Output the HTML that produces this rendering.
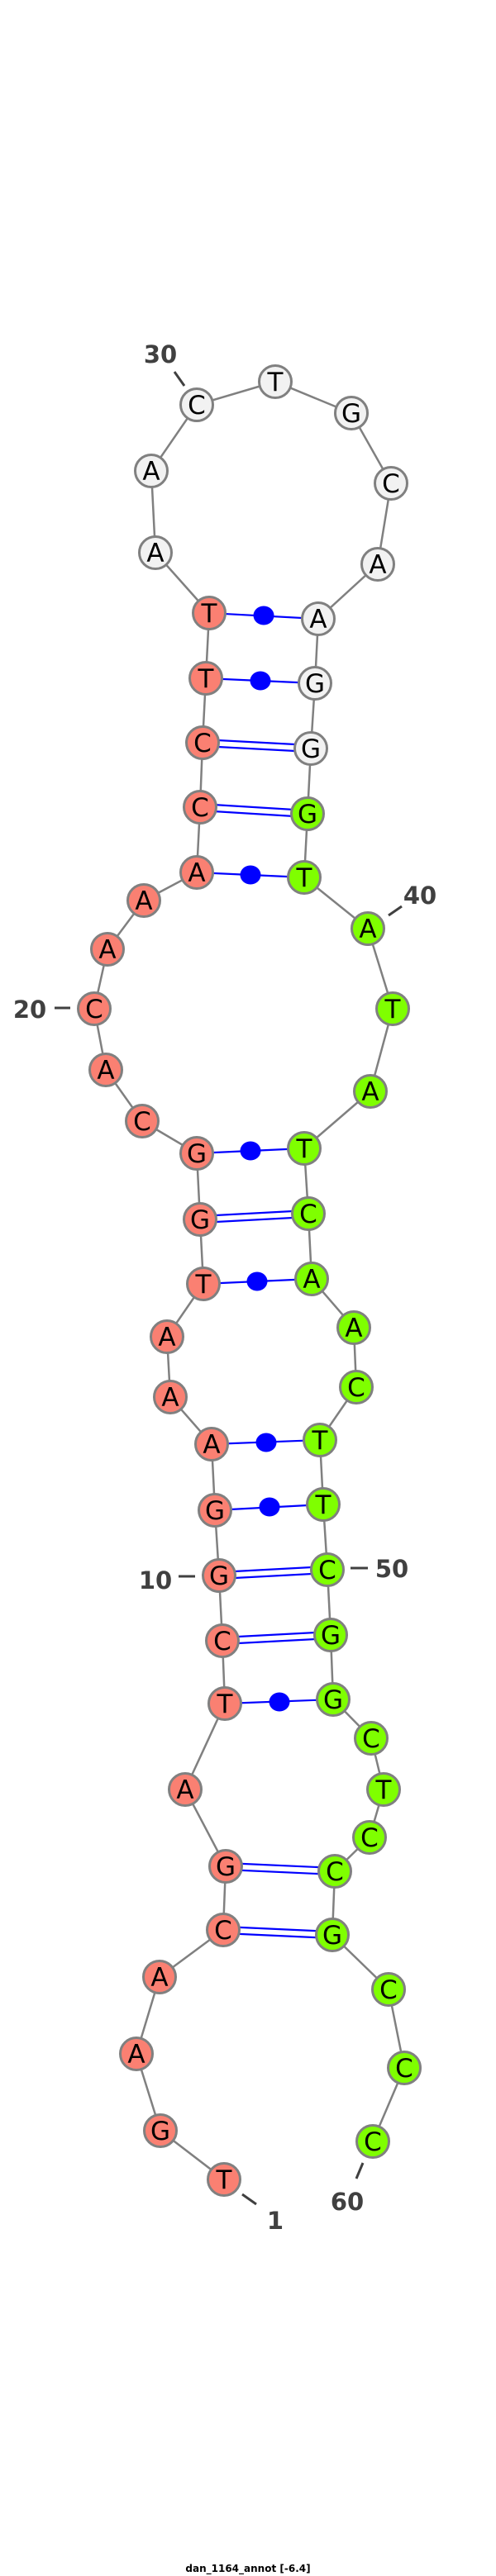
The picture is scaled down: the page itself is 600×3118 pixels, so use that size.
<!DOCTYPE html>
<html><head><meta charset="utf-8"><style>html,body{margin:0;padding:0;background:#fff}svg{display:block}</style></head><body>
<svg width="600" height="3118" viewBox="0 0 600 3118" xmlns="http://www.w3.org/2000/svg">
<g stroke="#808080" stroke-width="2.5" fill="none">
<polyline points="271,2638 194,2579 165,2486 193,2393 270,2336 273,2259 224,2166 272,2062 269,1986 265,1907 260,1828 256,1748 206,1691 202,1618 246,1554 242,1476 238,1396 172,1357 128,1295 114,1221 130,1149 174,1090 238,1056 242,977 245,899 249,821 253,742 188,669 183,570 238,490 333,462 425,500 473,585 457,683 385,749 381,827 376,906 372,985 368,1062 445,1124 475,1221 448,1321 368,1390 373,1469 377,1548 428,1607 431,1679 387,1743 391,1821 396,1900 400,1979 403,2057 449,2104 464,2166 447,2224 405,2265 402,2342 470,2408 489,2503 451,2592"/>
</g>
<g stroke="#0000ff" stroke-width="2.2">
<line x1="253" y1="742" x2="385" y2="749"/>
<line x1="249" y1="821" x2="381" y2="827"/>
<line x1="245" y1="895" x2="376" y2="902"/><line x1="245" y1="903" x2="376" y2="910"/>
<line x1="242" y1="973" x2="372" y2="981"/><line x1="242" y1="981" x2="372" y2="989"/>
<line x1="238" y1="1056" x2="368" y2="1062"/>
<line x1="238" y1="1396" x2="368" y2="1390"/>
<line x1="242" y1="1472" x2="373" y2="1465"/><line x1="242" y1="1480" x2="373" y2="1473"/>
<line x1="246" y1="1554" x2="377" y2="1548"/>
<line x1="256" y1="1748" x2="387" y2="1743"/>
<line x1="260" y1="1828" x2="391" y2="1821"/>
<line x1="265" y1="1903" x2="396" y2="1896"/><line x1="265" y1="1911" x2="396" y2="1904"/>
<line x1="269" y1="1982" x2="400" y2="1975"/><line x1="269" y1="1990" x2="400" y2="1983"/>
<line x1="272" y1="2062" x2="403" y2="2057"/>
<line x1="273" y1="2255" x2="405" y2="2261"/><line x1="273" y1="2263" x2="405" y2="2269"/>
<line x1="270" y1="2332" x2="402" y2="2338"/><line x1="270" y1="2340" x2="402" y2="2346"/>
</g>
<g fill="#0000ff">
<ellipse cx="319" cy="745" rx="12.5" ry="11.5"/>
<ellipse cx="315" cy="824" rx="12.5" ry="11.5"/>
<ellipse cx="303" cy="1059" rx="12.5" ry="11.5"/>
<ellipse cx="303" cy="1393" rx="12.5" ry="11.5"/>
<ellipse cx="311" cy="1551" rx="12.5" ry="11.5"/>
<ellipse cx="322" cy="1746" rx="12.5" ry="11.5"/>
<ellipse cx="326" cy="1824" rx="12.5" ry="11.5"/>
<ellipse cx="338" cy="2060" rx="12.5" ry="11.5"/>
</g>
<g stroke="#808080" stroke-width="3">
<g fill="#fa8072">
<circle cx="271" cy="2638" r="19.5"/><circle cx="194" cy="2579" r="19.5"/><circle cx="165" cy="2486" r="19.5"/><circle cx="193" cy="2393" r="19.5"/><circle cx="270" cy="2336" r="19.5"/><circle cx="273" cy="2259" r="19.5"/><circle cx="224" cy="2166" r="19.5"/><circle cx="272" cy="2062" r="19.5"/><circle cx="269" cy="1986" r="19.5"/><circle cx="265" cy="1907" r="19.5"/><circle cx="260" cy="1828" r="19.5"/><circle cx="256" cy="1748" r="19.5"/><circle cx="206" cy="1691" r="19.5"/><circle cx="202" cy="1618" r="19.5"/><circle cx="246" cy="1554" r="19.5"/><circle cx="242" cy="1476" r="19.5"/><circle cx="238" cy="1396" r="19.5"/><circle cx="172" cy="1357" r="19.5"/><circle cx="128" cy="1295" r="19.5"/><circle cx="114" cy="1221" r="19.5"/><circle cx="130" cy="1149" r="19.5"/><circle cx="174" cy="1090" r="19.5"/><circle cx="238" cy="1056" r="19.5"/><circle cx="242" cy="977" r="19.5"/><circle cx="245" cy="899" r="19.5"/><circle cx="249" cy="821" r="19.5"/><circle cx="253" cy="742" r="19.5"/>
</g>
<g fill="#f2f2f2">
<circle cx="188" cy="669" r="19.5"/><circle cx="183" cy="570" r="19.5"/><circle cx="238" cy="490" r="19.5"/><circle cx="333" cy="462" r="19.5"/><circle cx="425" cy="500" r="19.5"/><circle cx="473" cy="585" r="19.5"/><circle cx="457" cy="683" r="19.5"/><circle cx="385" cy="749" r="19.5"/><circle cx="381" cy="827" r="19.5"/><circle cx="376" cy="906" r="19.5"/>
</g>
<g fill="#7fff00">
<circle cx="372" cy="985" r="19.5"/><circle cx="368" cy="1062" r="19.5"/><circle cx="445" cy="1124" r="19.5"/><circle cx="475" cy="1221" r="19.5"/><circle cx="448" cy="1321" r="19.5"/><circle cx="368" cy="1390" r="19.5"/><circle cx="373" cy="1469" r="19.5"/><circle cx="377" cy="1548" r="19.5"/><circle cx="428" cy="1607" r="19.5"/><circle cx="431" cy="1679" r="19.5"/><circle cx="387" cy="1743" r="19.5"/><circle cx="391" cy="1821" r="19.5"/><circle cx="396" cy="1900" r="19.5"/><circle cx="400" cy="1979" r="19.5"/><circle cx="403" cy="2057" r="19.5"/><circle cx="449" cy="2104" r="19.5"/><circle cx="464" cy="2166" r="19.5"/><circle cx="447" cy="2224" r="19.5"/><circle cx="405" cy="2265" r="19.5"/><circle cx="402" cy="2342" r="19.5"/><circle cx="470" cy="2408" r="19.5"/><circle cx="489" cy="2503" r="19.5"/><circle cx="451" cy="2592" r="19.5"/>
</g>
</g>
<g font-family="DejaVu Sans, sans-serif" font-size="31" text-anchor="middle" fill="#000">
<text x="271" y="2649">T</text><text x="194" y="2590">G</text><text x="165" y="2497">A</text><text x="193" y="2404">A</text><text x="270" y="2347">C</text><text x="273" y="2270">G</text><text x="224" y="2177">A</text><text x="272" y="2073">T</text><text x="269" y="1997">C</text><text x="265" y="1918">G</text><text x="260" y="1839">G</text><text x="256" y="1759">A</text><text x="206" y="1702">A</text><text x="202" y="1629">A</text><text x="246" y="1565">T</text><text x="242" y="1487">G</text><text x="238" y="1407">G</text><text x="172" y="1368">C</text><text x="128" y="1306">A</text><text x="114" y="1232">C</text><text x="130" y="1160">A</text><text x="174" y="1101">A</text><text x="238" y="1067">A</text><text x="242" y="988">C</text><text x="245" y="910">C</text><text x="249" y="832">T</text><text x="253" y="753">T</text>
<text x="188" y="680">A</text><text x="183" y="581">A</text><text x="238" y="501">C</text><text x="333" y="473">T</text><text x="425" y="511">G</text><text x="473" y="596">C</text><text x="457" y="694">A</text><text x="385" y="760">A</text><text x="381" y="838">G</text><text x="376" y="917">G</text>
<text x="372" y="996">G</text><text x="368" y="1073">T</text><text x="445" y="1135">A</text><text x="475" y="1232">T</text><text x="448" y="1332">A</text><text x="368" y="1401">T</text><text x="373" y="1480">C</text><text x="377" y="1559">A</text><text x="428" y="1618">A</text><text x="431" y="1690">C</text><text x="387" y="1754">T</text><text x="391" y="1832">T</text><text x="396" y="1911">C</text><text x="400" y="1990">G</text><text x="403" y="2068">G</text><text x="449" y="2115">C</text><text x="464" y="2177">T</text><text x="447" y="2235">C</text><text x="405" y="2276">C</text><text x="402" y="2353">G</text><text x="470" y="2419">C</text><text x="489" y="2514">C</text><text x="451" y="2603">C</text>
</g>
<g stroke="#404040" stroke-width="3">
<line x1="211" y1="450" x2="223" y2="467"/>
<line x1="470" y1="1108" x2="486" y2="1097"/>
<line x1="66" y1="1220" x2="85" y2="1220"/>
<line x1="216" y1="1908" x2="236" y2="1908"/>
<line x1="424" y1="1898" x2="445" y2="1898"/>
<line x1="293" y1="2656" x2="310" y2="2668"/>
<line x1="439" y1="2618" x2="431" y2="2637"/>
</g>
<g font-family="DejaVu Sans, sans-serif" font-size="29" font-weight="bold" fill="#404040" text-anchor="middle">
<text x="194" y="439">30</text>
<text x="508" y="1094">40</text>
<text x="36" y="1232">20</text>
<text x="188" y="1923">10</text>
<text x="474" y="1909">50</text>
<text x="333" y="2698">1</text>
<text x="420" y="2675">60</text>
</g>
<text x="300" y="3113" font-family="DejaVu Sans, sans-serif" font-size="12" font-weight="bold" text-anchor="middle" fill="#000">dan_1164_annot [-6.4]</text>
</svg>
</body></html>
